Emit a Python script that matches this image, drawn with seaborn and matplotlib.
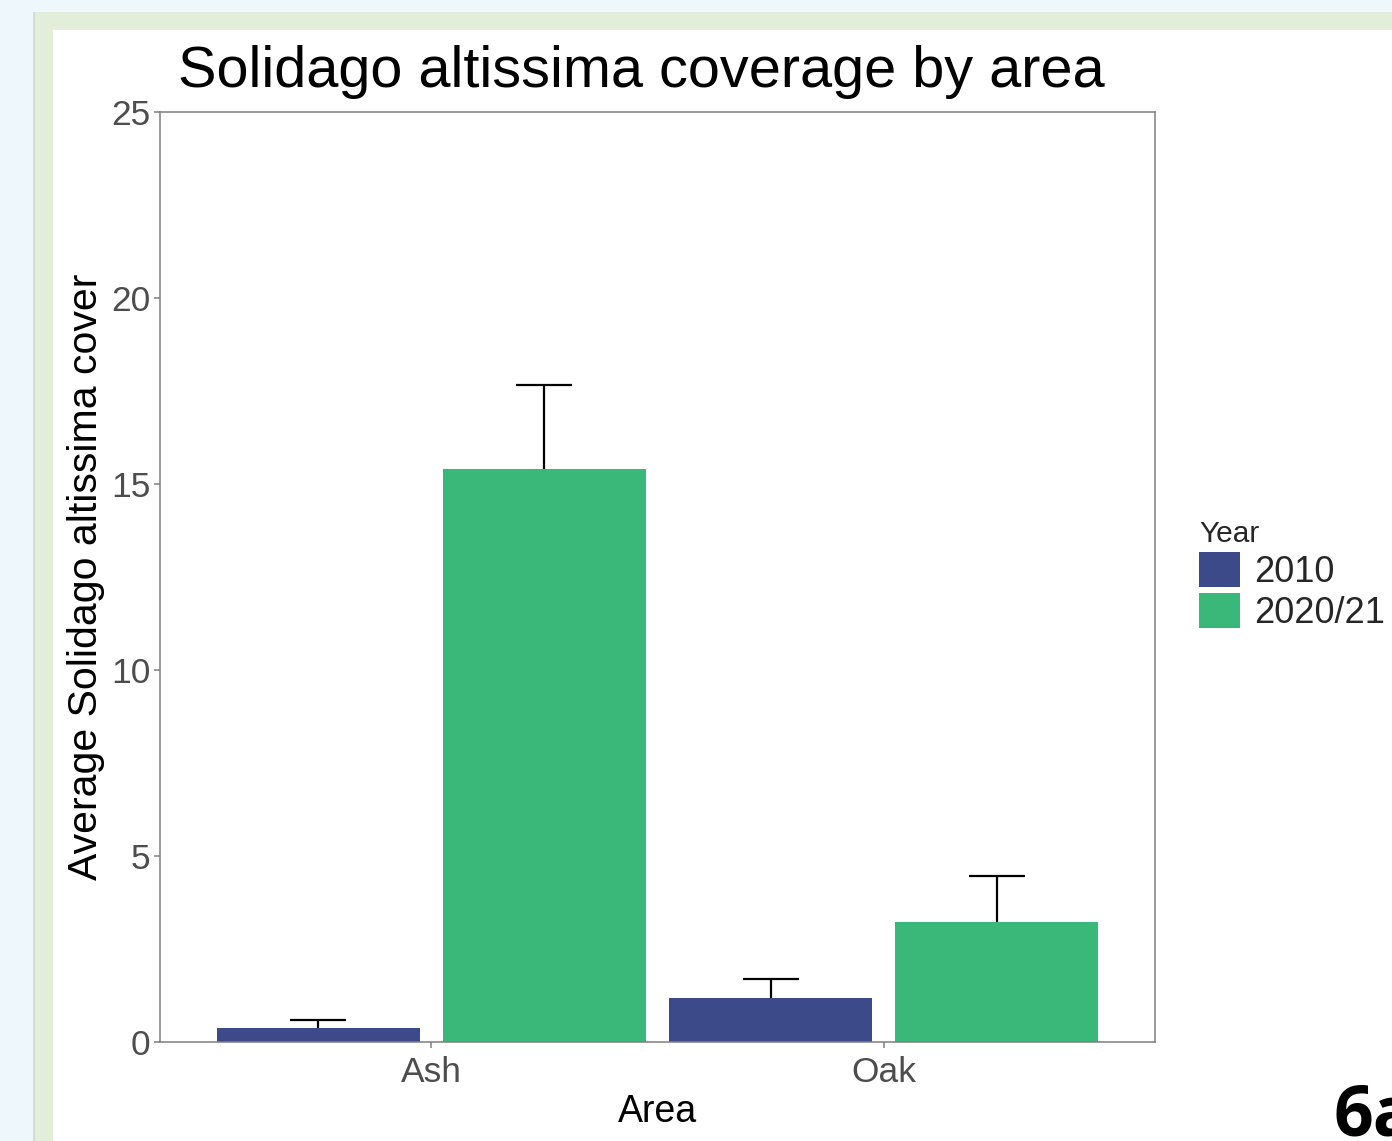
import matplotlib
matplotlib.use("Agg")
import matplotlib.pyplot as plt
from matplotlib.patches import Rectangle
import pandas as pd
import seaborn as sns

# Mean cover and standard error per area and survey year
areas = ["Ash", "Ash", "Oak", "Oak"]
years = ["2010", "2020/21", "2010", "2020/21"]
mean_cover = [0.38, 15.40, 1.18, 3.23]
std_error = [0.21, 2.25, 0.51, 1.24]

year_colors = {"2010": "#3c4a8a", "2020/21": "#39b87a"}
y_ticks = [0, 5, 10, 15, 20, 25]

df = pd.DataFrame({"Area": areas, "Year": years,
                   "Cover": mean_cover, "SE": std_error})

sns.set_theme(style="white")
plt.rcParams["font.family"] = ["Liberation Sans", "DejaVu Sans"]

W, H = 1392, 1141
fig = plt.figure(figsize=(W / 100, H / 100), dpi=100)
fig.patch.set_facecolor("#eef8fc")

# Slide-style frame: green band with a white card inside
fig.patches.append(Rectangle((33 / W, 0), 1, 1 - 12 / H, transform=fig.transFigure,
                             facecolor="#d3dbd5", edgecolor="none", zorder=-3))
fig.patches.append(Rectangle((35 / W, 0), 1, 1 - 12 / H, transform=fig.transFigure,
                             facecolor="#e2eed9", edgecolor="none", zorder=-2))
fig.patches.append(Rectangle((53 / W, 0), 1, 1 - 30 / H, transform=fig.transFigure,
                             facecolor="white", edgecolor="none", zorder=-1))

ax = fig.add_axes([160 / W, (H - 1042) / H, (1155 - 160) / W, (1042 - 112) / H])
ax.set_facecolor("white")

sns.barplot(data=df, x="Area", y="Cover", hue="Year", palette=year_colors,
            order=["Ash", "Oak"], hue_order=["2010", "2020/21"],
            width=1.0, gap=0.1, errorbar=None, saturation=1,
            edgecolor="none", linewidth=0, ax=ax, legend=True)

# Upper error bars (stem and top cap) at each bar's centre
cap_half = 0.062
bars = sorted(ax.patches[:4], key=lambda p: p.get_x())
for bar, (_, row) in zip(bars, df.iterrows()):
    xc = bar.get_x() + bar.get_width() / 2
    top = row["Cover"] + row["SE"]
    ax.vlines(xc, row["Cover"], top, colors="black", linewidth=1.6, zorder=3)
    ax.hlines(top, xc - cap_half, xc + cap_half, colors="black",
              linewidth=1.6, zorder=3)

ax.set_xlim(-0.6, 1.6)
ax.set_ylim(0, 25)
ax.set_yticks(y_ticks)
ax.set_yticklabels([str(t) for t in y_ticks])

for s in ax.spines.values():
    s.set_visible(True)
    s.set_color("#7f7f7f")
    s.set_linewidth(1.1)

ax.tick_params(axis="both", which="both", direction="out", length=4,
               width=1.1, color="#7f7f7f", labelcolor="#4d4d4d",
               labelsize=25.5, left=True, bottom=True)
ax.tick_params(axis="x", pad=6)
ax.tick_params(axis="y", pad=3)

ax.set_xlabel("Area", fontsize=27, color="black", labelpad=4)
ax.set_ylabel("Average Solidago altissima cover", fontsize=29.5, color="black",
              labelpad=4)
fig.text(178 / W, 1 - 87 / H, "Solidago altissima coverage by area",
         fontsize=41.5, color="black", ha="left", va="baseline")

ax.legend_.remove()
handles = [Rectangle((0, 0), 1, 1, facecolor=year_colors[y], edgecolor="white",
                     linewidth=0) for y in ["2010", "2020/21"]]
leg = fig.legend(handles, ["2010", "2020/21"], title="Year",
                 loc="upper left", bbox_to_anchor=(1192 / W, 1 - 513 / H),
                 frameon=False, fontsize=26, title_fontsize=21.5,
                 handlelength=1.12, handleheight=1.12, handletextpad=0.4,
                 labelspacing=0.1, borderaxespad=0, borderpad=0.2)
leg._legend_box.align = "left"

fig.text(1333 / W, 1 - 1135 / H, "6a", fontsize=50, fontweight="bold",
         family=["Open Sans", "DejaVu Sans"], color="black", ha="left",
         va="baseline")

fig.savefig("out.png", dpi=100, facecolor=fig.get_facecolor())
